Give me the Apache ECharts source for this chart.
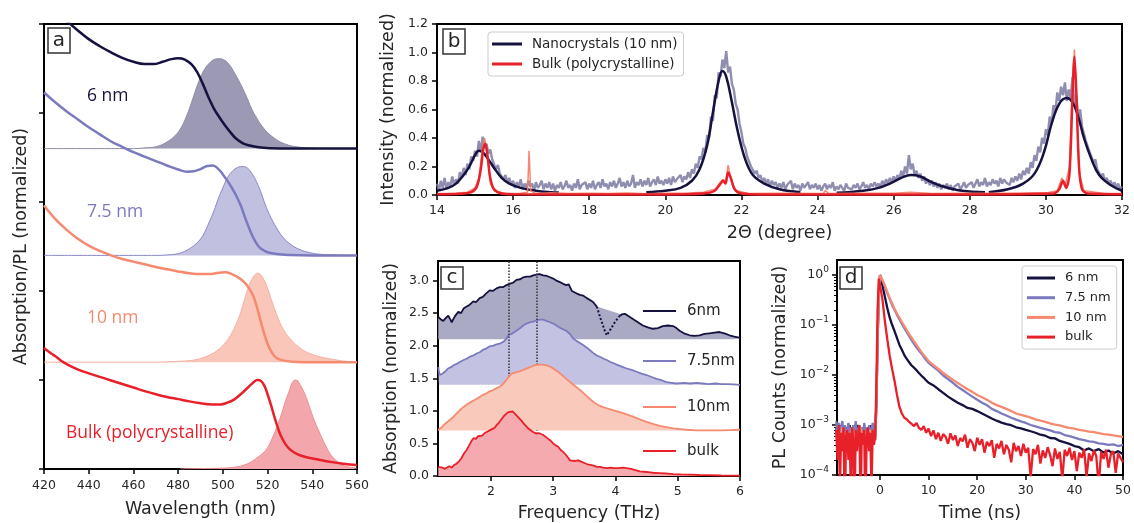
<!DOCTYPE html>
<html><head><meta charset="utf-8">
<script src="https://cdn.jsdelivr.net/npm/echarts@6/dist/echarts.min.js"></script>
<style>html,body{margin:0;padding:0;background:#fff}#chart{width:1134px;height:523px}</style>
</head><body><div id="chart"></div>
<script>
const FONT = "'DejaVu Sans', sans-serif";
const LABFONT = "'Open Sans', 'DejaVu Sans', sans-serif";
const C6 = '#15123f', C75 = '#7c7abf', C10 = '#f58a70', CB = '#e8202a';

// ---------- Panel a : absorption / PL (wavelength nm, offset units) ----------
const aBase = [3.6, 2.4, 1.2, 0];
const aAbs6 = [[420,5.32],[425,5.17],[430,5.04],[435,4.93],[440,4.83],[445,4.75],[450,4.68],[455,4.62],[460,4.575],[465,4.55],[469,4.55],[473,4.575],[477,4.605],[480,4.615],[483,4.6],[486,4.545],[488.5,4.46],[491,4.33],[493.5,4.18],[496,4.05],[498.5,3.95],[501,3.86],[503.5,3.78],[506,3.71],[509,3.66],[512,3.635],[516,3.615],[521,3.605],[530,3.6],[560,3.6]];
const aPL6 = [[420,3.6],[460,3.6],[466,3.61],[470,3.62],[474,3.66],[478,3.73],[481,3.82],[484,3.98],[486,4.12],[488,4.27],[490,4.4],[492,4.5],[494,4.56],[496,4.6],[498.5,4.61],[501,4.59],[503,4.54],[505,4.46],[507,4.37],[509,4.27],[511,4.16],[513,4.04],[515,3.95],[517,3.87],[520,3.78],[524,3.7],[528,3.65],[533,3.62],[540,3.605],[548,3.6],[560,3.6]];
const aAbs75 = [[420,4.23],[425,4.12],[430,4.02],[435,3.93],[440,3.84],[445,3.76],[450,3.68],[455,3.62],[460,3.56],[465,3.51],[470,3.46],[475,3.41],[480,3.365],[484,3.34],[487,3.345],[490,3.37],[493,3.405],[495.5,3.41],[498,3.37],[500,3.31],[502,3.24],[504,3.16],[506,3.07],[508,2.96],[510,2.82],[512,2.69],[514,2.58],[516,2.5],[518,2.46],[520,2.435],[524,2.415],[530,2.405],[540,2.4],[560,2.4]];
const aPL75 = [[420,2.4],[470,2.4],[475,2.405],[480,2.42],[484,2.46],[488,2.53],[491,2.62],[494,2.78],[496,2.9],[498,3.04],[500,3.16],[502,3.27],[504,3.34],[506,3.38],[508.6,3.4],[511,3.38],[513,3.32],[515,3.23],[517,3.11],[519,2.97],[521,2.85],[524,2.71],[527,2.6],[530,2.53],[534,2.47],[539,2.43],[545,2.41],[560,2.4]];
const aAbs10 = [[420,2.96],[425,2.81],[430,2.69],[435,2.59],[440,2.51],[445,2.45],[450,2.4],[455,2.36],[460,2.33],[465,2.3],[470,2.27],[475,2.245],[480,2.22],[485,2.2],[490,2.19],[494,2.19],[498,2.205],[501,2.21],[504,2.19],[507,2.15],[509.5,2.1],[511.5,2.04],[513.5,1.95],[515,1.84],[516.5,1.7],[518,1.56],[519.5,1.44],[521,1.35],[523,1.27],[525,1.235],[528,1.215],[533,1.203],[540,1.2],[560,1.2]];
const aPL10 = [[420,1.2],[470,1.2],[480,1.21],[486,1.22],[490,1.24],[494,1.28],[497.4,1.33],[500.5,1.4],[503.4,1.5],[506,1.63],[508,1.76],[510,1.93],[512,2.08],[514,2.17],[515.6,2.2],[517,2.18],[518.5,2.12],[520,2.03],[522,1.88],[524.3,1.72],[527,1.57],[530.2,1.46],[534,1.37],[537.7,1.31],[543.6,1.26],[549.6,1.23],[555,1.21],[560,1.2]];
const aAbsB = [[420,1.36],[422,1.32],[424,1.285],[426,1.25],[428,1.21],[430,1.18],[435,1.12],[440,1.075],[445,1.035],[450,0.995],[455,0.955],[460,0.915],[465,0.875],[470,0.84],[475,0.81],[480,0.785],[485,0.76],[490,0.74],[495,0.725],[499,0.725],[502,0.745],[505,0.78],[508,0.84],[511,0.91],[513.5,0.97],[515.5,1.0],[517,0.99],[518.5,0.94],[520,0.84],[521.5,0.72],[523,0.59],[524.5,0.47],[526,0.37],[528,0.28],[530,0.22],[533,0.17],[537,0.135],[542,0.11],[548,0.08],[554,0.06],[560,0.045]];
const aPLB = [[481,0.0],[490,0.005],[500,0.01],[505,0.02],[509,0.04],[512,0.07],[515,0.12],[518,0.18],[520,0.24],[522,0.34],[524,0.46],[526,0.6],[528,0.76],[530,0.9],[531,0.97],[532.4,1.0],[533.5,0.99],[534.7,0.94],[536,0.88],[537.5,0.79],[539,0.68],[541,0.54],[543.6,0.39],[546,0.26],[548,0.17],[550,0.11],[552.6,0.06],[555,0.03],[558.5,0.015],[560,0.01]];
const aLabels = ['6 nm', '7.5 nm', '10 nm', 'Bulk (polycrystalline)'];

// ---------- Panel b : XRD ----------
const xrdStart = 14, xrdStep = 0.05;
const xrdNanoRaw = [
0.08,0.03,0.10,0.05,0.12,0.04,0.09,0.06,0.13,0.07,
0.11,0.08,0.16,0.12,0.19,0.14,0.22,0.18,0.27,0.24,
0.31,0.27,0.38,0.30,0.41,0.33,0.36,0.29,0.32,0.25,
0.24,0.18,0.21,0.15,0.16,0.11,0.14,0.09,0.12,0.07,
0.10,0.05,0.09,0.06,0.11,0.04,0.08,0.05,0.10,0.06,
0.08,0.03,0.09,0.05,0.07,0.10,0.04,0.08,0.05,0.09,
0.04,0.08,0.03,0.07,0.05,0.09,0.04,0.06,0.10,0.05,
0.07,0.03,0.08,0.05,0.11,0.04,0.07,0.06,0.09,0.04,
0.08,0.05,0.10,0.04,0.07,0.09,0.05,0.11,0.06,0.08,
0.04,0.09,0.06,0.10,0.05,0.08,0.12,0.06,0.09,0.05,
0.10,0.06,0.08,0.14,0.05,0.09,0.07,0.11,0.06,0.10,
0.07,0.12,0.06,0.09,0.11,0.07,0.13,0.08,0.10,0.07,
0.11,0.08,0.12,0.07,0.13,0.09,0.11,0.10,0.14,0.09,
0.13,0.11,0.16,0.12,0.18,0.15,0.22,0.19,0.27,0.25,
0.33,0.30,0.42,0.40,0.55,0.52,0.70,0.68,0.86,0.83,
0.95,0.89,1.01,0.86,0.90,0.78,0.74,0.64,0.60,0.50,
0.44,0.36,0.33,0.27,0.26,0.20,0.21,0.15,0.17,0.12,
0.14,0.09,0.12,0.08,0.11,0.06,0.10,0.07,0.09,0.05,
0.08,0.05,0.09,0.04,0.07,0.06,0.10,0.04,0.08,0.05,
0.07,0.03,0.08,0.05,0.06,0.09,0.04,0.07,0.05,0.08,
0.04,0.07,0.03,0.06,0.08,0.04,0.07,0.05,0.09,0.03,
0.06,0.04,0.07,0.05,0.03,0.08,0.05,0.06,0.04,0.07,
0.05,0.08,0.04,0.06,0.09,0.05,0.07,0.04,0.08,0.06,
0.09,0.06,0.08,0.05,0.10,0.07,0.11,0.08,0.12,0.09,
0.13,0.10,0.14,0.11,0.17,0.13,0.20,0.15,0.28,0.18,
0.22,0.14,0.17,0.12,0.15,0.10,0.13,0.08,0.11,0.07,
0.10,0.06,0.09,0.05,0.08,0.04,0.07,0.05,0.08,0.04,
0.07,0.03,0.06,0.05,0.08,0.04,0.06,0.09,0.05,0.07,
0.06,0.09,0.05,0.08,0.11,0.06,0.09,0.07,0.12,0.06,
0.09,0.07,0.11,0.08,0.10,0.06,0.12,0.08,0.11,0.09,
0.10,0.07,0.12,0.09,0.13,0.10,0.15,0.11,0.17,0.14,
0.19,0.15,0.23,0.19,0.28,0.24,0.34,0.30,0.40,0.36,
0.46,0.42,0.55,0.50,0.63,0.58,0.72,0.66,0.76,0.70,
0.79,0.66,0.74,0.68,0.83,0.62,0.70,0.55,0.60,0.48,
0.47,0.38,0.39,0.30,0.31,0.23,0.25,0.18,0.19,0.13,
0.15,0.10,0.12,0.08,0.10,0.06,0.09,0.05,0.08,0.04,
0.06];
const xrdNanoFit1 = [[14.0,0.03],[14.3,0.05],[14.5,0.08],[14.7,0.14],[14.85,0.2],[15.0,0.28],[15.1,0.31],[15.2,0.3],[15.35,0.25],[15.5,0.19],[15.7,0.12],[15.9,0.08],[16.2,0.05],[16.6,0.03],[17.0,0.02],[17.2,0.018]];
const xrdNanoFit2 = [[19.5,0.02],[20.0,0.03],[20.4,0.05],[20.7,0.1],[20.9,0.18],[21.1,0.35],[21.25,0.58],[21.4,0.8],[21.5,0.87],[21.6,0.83],[21.75,0.65],[21.9,0.45],[22.1,0.25],[22.3,0.14],[22.6,0.08],[23.0,0.04],[23.55,0.02]];
const xrdNanoFit3 = [[24.5,0.015],[25.2,0.03],[25.6,0.05],[25.9,0.08],[26.2,0.12],[26.45,0.14],[26.7,0.13],[27.0,0.09],[27.3,0.06],[27.8,0.03],[28.4,0.02]];
const xrdNanoFit4 = [[28.5,0.02],[29.0,0.04],[29.4,0.08],[29.7,0.15],[29.95,0.3],[30.15,0.5],[30.35,0.64],[30.55,0.68],[30.7,0.65],[30.85,0.55],[31.0,0.4],[31.2,0.25],[31.4,0.14],[31.7,0.07],[32.0,0.03]];
const xrdBulkRaw = [[14.0,0.01],[14.5,0.012],[14.8,0.02],[15.0,0.05],[15.1,0.12],[15.18,0.3],[15.25,0.4],[15.32,0.28],[15.4,0.08],[15.5,0.03],[15.8,0.01],[16.2,0.012],[16.38,0.02],[16.42,0.31],[16.46,0.03],[16.6,0.01],[17,0.015],[17.5,0.01],[18,0.012],[18.5,0.01],[19,0.014],[19.5,0.008],[20,0.012],[20.5,0.012],[21.0,0.02],[21.3,0.04],[21.45,0.09],[21.52,0.11],[21.58,0.08],[21.65,0.21],[21.72,0.12],[21.85,0.03],[22.2,0.01],[23,0.012],[24.15,0.01],[24.2,0.03],[24.3,0.01],[25,0.012],[26,0.012],[26.45,0.02],[27,0.01],[28,0.012],[29,0.012],[30,0.015],[30.3,0.03],[30.42,0.12],[30.5,0.06],[30.62,0.2],[30.7,0.8],[30.75,1.02],[30.8,0.7],[30.88,0.15],[31.0,0.03],[31.5,0.012],[32,0.01]];
const xrdBulkFit = [[14,0.005],[14.6,0.008],[14.9,0.02],[15.05,0.06],[15.15,0.18],[15.22,0.33],[15.27,0.36],[15.33,0.27],[15.4,0.12],[15.5,0.04],[15.7,0.01],[16,0.005],[18,0.004],[20,0.004],[21.0,0.01],[21.3,0.03],[21.45,0.08],[21.52,0.1],[21.58,0.08],[21.65,0.16],[21.72,0.12],[21.82,0.04],[22.0,0.01],[22.5,0.004],[25,0.004],[28,0.004],[30.2,0.01],[30.35,0.04],[30.45,0.1],[30.53,0.05],[30.62,0.15],[30.7,0.7],[30.75,0.97],[30.8,0.72],[30.87,0.2],[30.95,0.04],[31.1,0.01],[32,0.005]];

// ---------- Panel c : THz absorption ----------
const cBase = [2.1, 1.4, 0.7, 0];
const cMarks = [2.28, 2.73];
const c6A = [[1.155,2.44],[1.2,2.4],[1.235,2.38],[1.28,2.43],[1.315,2.46],[1.35,2.4],[1.37,2.36],[1.42,2.45],[1.476,2.52],[1.52,2.5],[1.56,2.57],[1.61,2.6],[1.66,2.63],[1.717,2.68],[1.76,2.67],[1.82,2.73],[1.87,2.75],[1.92,2.8],[1.98,2.85],[2.03,2.84],[2.09,2.88],[2.14,2.9],[2.2,2.9],[2.25,2.93],[2.3,2.95],[2.36,2.97],[2.41,3.01],[2.47,3.02],[2.52,3.05],[2.57,3.06],[2.63,3.06],[2.68,3.08],[2.73,3.09],[2.78,3.1],[2.84,3.08],[2.9,3.07],[2.95,3.05],[3.0,3.03],[3.05,3.0],[3.1,2.98],[3.16,2.95],[3.21,2.93],[3.25,2.94],[3.27,2.9],[3.3,2.84],[3.32,2.82],[3.38,2.8],[3.43,2.78],[3.48,2.77],[3.54,2.73],[3.59,2.7],[3.64,2.67],[3.7,2.6]];
const c6Dip = [[3.7,2.6],[3.76,2.42],[3.82,2.25],[3.86,2.16],[3.92,2.25],[3.99,2.36],[4.06,2.45]];
const c6B = [[4.06,2.45],[4.1,2.48],[4.15,2.49],[4.2,2.46],[4.28,2.41],[4.36,2.36],[4.44,2.31],[4.52,2.28],[4.6,2.26],[4.68,2.27],[4.76,2.3],[4.84,2.31],[4.93,2.3],[4.98,2.27],[5.03,2.23],[5.1,2.19],[5.19,2.16],[5.27,2.15],[5.35,2.16],[5.43,2.18],[5.51,2.19],[5.59,2.2],[5.67,2.21],[5.75,2.19],[5.83,2.16],[5.91,2.14],[6.0,2.12]];
const c75 = [[1.155,1.67],[1.165,1.6],[1.18,1.55],[1.22,1.57],[1.26,1.6],[1.31,1.65],[1.36,1.67],[1.4,1.7],[1.45,1.72],[1.5,1.75],[1.56,1.78],[1.61,1.8],[1.66,1.83],[1.72,1.85],[1.77,1.88],[1.82,1.9],[1.88,1.94],[1.93,1.96],[1.98,1.99],[2.04,2.0],[2.09,2.02],[2.14,2.03],[2.2,2.06],[2.25,2.11],[2.28,2.16],[2.33,2.18],[2.38,2.21],[2.41,2.23],[2.47,2.27],[2.52,2.31],[2.57,2.34],[2.63,2.36],[2.68,2.37],[2.73,2.39],[2.78,2.4],[2.84,2.4],[2.89,2.38],[2.95,2.36],[3.0,2.34],[3.05,2.31],[3.1,2.28],[3.16,2.25],[3.21,2.23],[3.27,2.18],[3.32,2.11],[3.38,2.07],[3.43,2.04],[3.48,2.01],[3.54,1.97],[3.59,1.93],[3.64,1.89],[3.7,1.85],[3.75,1.83],[3.81,1.8],[3.86,1.78],[3.92,1.75],[3.97,1.73],[4.02,1.71],[4.1,1.68],[4.18,1.65],[4.26,1.63],[4.34,1.6],[4.42,1.57],[4.5,1.55],[4.58,1.52],[4.66,1.49],[4.74,1.47],[4.82,1.44],[4.9,1.43],[4.98,1.42],[5.1,1.43],[5.2,1.42],[5.3,1.43],[5.4,1.42],[5.5,1.41],[5.6,1.42],[5.7,1.41],[5.8,1.41],[5.9,1.405],[6.0,1.4]];
const c10 = [[1.155,0.71],[1.2,0.74],[1.25,0.79],[1.3,0.83],[1.34,0.86],[1.4,0.91],[1.45,0.96],[1.5,1.01],[1.56,1.06],[1.62,1.1],[1.67,1.13],[1.72,1.16],[1.78,1.19],[1.83,1.22],[1.88,1.25],[1.93,1.27],[1.98,1.3],[2.04,1.32],[2.09,1.35],[2.14,1.37],[2.18,1.4],[2.22,1.44],[2.27,1.5],[2.33,1.57],[2.4,1.59],[2.47,1.61],[2.55,1.64],[2.63,1.67],[2.7,1.7],[2.76,1.71],[2.83,1.71],[2.89,1.7],[2.95,1.68],[3.0,1.65],[3.05,1.62],[3.13,1.56],[3.21,1.49],[3.3,1.42],[3.38,1.36],[3.43,1.32],[3.5,1.26],[3.57,1.2],[3.64,1.14],[3.72,1.09],[3.79,1.06],[3.86,1.04],[3.96,1.01],[4.07,0.98],[4.17,0.95],[4.28,0.91],[4.39,0.87],[4.5,0.83],[4.6,0.8],[4.71,0.77],[4.82,0.75],[4.93,0.73],[5.04,0.72],[5.14,0.71],[5.3,0.7],[5.5,0.7],[5.7,0.7],[5.85,0.705],[6.0,0.71]];
const cBulk = [[1.155,0.14],[1.18,0.12],[1.22,0.13],[1.26,0.11],[1.29,0.12],[1.33,0.15],[1.37,0.13],[1.41,0.17],[1.45,0.19],[1.49,0.23],[1.53,0.28],[1.57,0.35],[1.61,0.4],[1.65,0.47],[1.69,0.54],[1.72,0.58],[1.76,0.57],[1.79,0.61],[1.82,0.63],[1.86,0.62],[1.9,0.66],[1.94,0.68],[1.98,0.7],[2.02,0.72],[2.06,0.74],[2.09,0.78],[2.13,0.82],[2.17,0.87],[2.2,0.91],[2.24,0.95],[2.28,0.98],[2.31,1.0],[2.35,0.99],[2.38,0.97],[2.41,0.93],[2.45,0.89],[2.49,0.85],[2.52,0.81],[2.56,0.77],[2.6,0.73],[2.63,0.7],[2.67,0.68],[2.7,0.66],[2.73,0.65],[2.77,0.66],[2.8,0.64],[2.84,0.63],[2.88,0.6],[2.92,0.57],[2.96,0.54],[3.0,0.5],[3.04,0.47],[3.08,0.45],[3.12,0.4],[3.16,0.37],[3.2,0.33],[3.24,0.28],[3.27,0.24],[3.3,0.25],[3.35,0.23],[3.4,0.24],[3.45,0.22],[3.5,0.2],[3.55,0.18],[3.6,0.17],[3.65,0.16],[3.7,0.14],[3.75,0.14],[3.8,0.13],[3.86,0.12],[3.92,0.13],[3.98,0.12],[4.05,0.12],[4.12,0.13],[4.18,0.12],[4.25,0.11],[4.32,0.09],[4.39,0.07],[4.46,0.065],[4.53,0.06],[4.6,0.05],[4.7,0.045],[4.8,0.04],[4.93,0.03],[5.05,0.025],[5.2,0.02],[5.35,0.015],[5.5,0.012],[5.7,0.008],[5.85,0.006],[6.0,0.005]];
const cNames = ['6nm', '7.5nm', '10nm', 'bulk'];

// ---------- Panel d : PL decay ----------
const dTimePre = [-9,-8.75,-8.5,-8.25,-8,-7.75,-7.5,-7.25,-7,-6.75,-6.5,-6.25,-6,-5.75,-5.5,-5.25,-5,-4.75,-4.5,-4.25,-4,-3.75,-3.5,-3.25,-3,-2.75,-2.5,-2.25,-2,-1.75,-1.5,-1.25,-1];
const dTimeRise = [-0.75,-0.5,-0.25];
const dTimeNC = [0,0.5,1,1.5,2,2.5,3,3.5,4,4.5,5,5.5,6,6.5,7,7.5,8,8.5,9,9.5,10,
11,12,13,14,15,16,17,18,19,20,21,22,23,24,25,26,27,28,29,30,31,32,33,34,35,36,37,38,39,40,41,42,43,44,45,46,47,48,49,50];
const dTimeBulk = [0,0.5,1,1.5,2,2.5,3,3.5,4,4.5,5,5.5,6,6.5,7,7.5,8,8.5,9,9.5,10,
10.5,11,11.5,12,12.5,13,13.5,14,14.5,15,15.5,16,16.5,17,17.5,18,18.5,19,19.5,20,
20.5,21,21.5,22,22.5,23,23.5,24,24.5,25,25.5,26,26.5,27,27.5,28,28.5,29,29.5,30,
30.5,31,31.5,32,32.5,33,33.5,34,34.5,35,35.5,36,36.5,37,37.5,38,38.5,39,39.5,40,
40.5,41,41.5,42,42.5,43,43.5,44,44.5,45,45.5,46,46.5,47,47.5,48,48.5,49,49.5,50];
const d6Pre = [9e-4,5e-4,8e-4,4e-4,1.0e-3,6e-4,8e-4,5e-4,9e-4,4e-4,7e-4,1.0e-3,5e-4,8e-4,6e-4,9e-4,4e-4,7e-4,1.0e-3,5e-4,8e-4,6e-4,9e-4,5e-4,7e-4,4e-4,8e-4,6e-4,1.0e-3,5e-4,7e-4,6e-4,5e-4];
const d75Pre = [1.2e-3,6e-4,1.1e-3,5e-4,9e-4,1.2e-3,7e-4,1.0e-3,5e-4,8e-4,1.1e-3,6e-4,9e-4,4e-4,1.0e-3,7e-4,1.2e-3,5e-4,8e-4,1.0e-3,6e-4,9e-4,4e-4,1.1e-3,7e-4,9e-4,5e-4,1.0e-3,6e-4,8e-4,1.1e-3,5e-4,7e-4];
const d10Pre = [7e-4,4e-4,8e-4,5e-4,6e-4,9e-4,4e-4,7e-4,5e-4,8e-4,3e-4,7e-4,6e-4,9e-4,4e-4,6e-4,8e-4,5e-4,7e-4,4e-4,9e-4,6e-4,5e-4,8e-4,4e-4,7e-4,6e-4,5e-4,8e-4,4e-4,6e-4,7e-4,5e-4];
const dBulkPre = [8e-4,2e-4,1.0e-3,5e-5,7e-4,3e-4,9e-4,1e-5,6e-4,8e-4,2e-4,7e-4,4e-5,9e-4,5e-4,1e-5,8e-4,3e-4,6e-4,1.0e-3,2e-5,7e-4,4e-4,8e-4,1e-5,6e-4,9e-4,3e-4,7e-4,5e-5,8e-4,4e-4,6e-4];
const dNCRise = [2.5e-3, 0.05, 0.4];
const dBulkRise = [6e-3, 0.2, 0.85];
const d6 = [1.0,0.62,0.37,0.22,0.14,0.1,0.075,0.055,0.04,0.032,0.025,0.021,0.018,0.0155,0.014,0.0125,0.011,0.0098,0.0088,0.0078,0.007,
0.0062,0.0052,0.0044,0.0037,0.0032,0.0028,0.0025,0.0022,0.0021,0.0019,0.0017,0.00152,0.00135,0.00122,0.00112,0.00104,0.00099,0.0009,0.00086,0.0008,0.00075,0.0007,0.00064,0.00061,0.00055,0.00054,0.00048,0.00045,0.00042,0.00038,0.00036,0.00031,0.00034,0.0003,0.00033,0.00028,0.00031,0.00027,0.0003,0.00026];
const d75 = [1.0,0.78,0.58,0.43,0.33,0.25,0.2,0.16,0.13,0.105,0.087,0.072,0.06,0.05,0.042,0.036,0.031,0.027,0.023,0.02,0.0175,
0.0145,0.0122,0.0098,0.0083,0.007,0.0058,0.005,0.0043,0.0037,0.0032,0.0028,0.0025,0.0021,0.0019,0.0017,0.00155,0.0014,0.00128,0.00118,0.0011,0.001,0.00094,0.00088,0.00083,0.00078,0.00072,0.0007,0.00063,0.0006,0.00056,0.00052,0.0005,0.00047,0.00046,0.00043,0.00042,0.0004,0.00041,0.00038,0.0004];
const d10 = [1.0,0.8,0.62,0.46,0.35,0.27,0.21,0.17,0.14,0.115,0.095,0.079,0.066,0.056,0.047,0.04,0.034,0.029,0.025,0.022,0.019,
0.0158,0.0132,0.011,0.0094,0.0081,0.0069,0.006,0.0052,0.0046,0.004,0.0036,0.0032,0.0028,0.0025,0.0023,0.0021,0.0019,0.0017,0.0016,0.0015,0.0014,0.0013,0.00122,0.00115,0.00108,0.00102,0.00098,0.00092,0.00088,0.00085,0.0008,0.00077,0.00074,0.00072,0.00069,0.00066,0.00064,0.00062,0.0006,0.00058];
const dBulk = [0.9,0.33,0.12,0.052,0.024,0.013,0.0075,0.004,0.0023,0.0017,0.0014,0.0013,0.00115,0.00105,0.00095,0.0011,0.00088,0.0008,0.00095,0.0007,0.00085,
0.0006,0.00078,0.00052,0.0007,0.00048,0.00066,0.00058,0.00042,0.00068,0.0005,
0.00062,0.00038,0.00055,0.00047,0.00064,0.00035,0.00052,0.00044,0.0003,0.00056,
0.0004,0.00052,0.00028,0.00046,0.00038,0.0005,0.00022,0.00042,0.00034,0.00048,
0.00026,0.0004,0.00032,0.00018,0.00044,0.0003,0.00038,0.00024,0.00042,0.00028,
0.00035,0.00009,0.00033,0.00026,0.0004,0.00017,0.00031,0.00022,0.00036,0.00025,
0.00015,0.00034,0.00021,0.00029,0.00008,0.00032,0.00024,0.00035,0.0002,0.0003,
0.00012,0.00028,0.00022,0.00033,0.00009,0.00027,0.00019,0.00031,0.00024,0.00006,
0.00029,0.00021,0.00032,0.00014,0.00026,0.0003,0.00011,0.00027,0.00022,0.00018];
const dNames = ['6 nm', '7.5 nm', '10 nm', 'bulk'];
const dMajor = [1e-4, 1e-3, 1e-2, 1e-1, 1];
const dMinor = [2e-4,3e-4,4e-4,5e-4,6e-4,7e-4,8e-4,9e-4,2e-3,3e-3,4e-3,5e-3,6e-3,7e-3,8e-3,9e-3,2e-2,3e-2,4e-2,5e-2,6e-2,7e-2,8e-2,9e-2,0.2,0.3,0.4,0.5,0.6,0.7,0.8,0.9];
const dXTicks = [0, 10, 20, 30, 40, 50];
const cXTicks = [2, 3, 4, 5, 6];

// ---------- helpers ----------
const zip = (t, v) => t.map((x, i) => [x, v[i]]);
const xrdRawPairs = xrdNanoRaw.map((v, i) => [+(xrdStart + i * xrdStep).toFixed(2), v]);
function logLabel(v) {
  const e = Math.log10(v), r = Math.round(e);
  if (Math.abs(e - r) > 0.01) return '';
  return '{b|10}{s|' + (r < 0 ? '\u2212' + (-r) : String(r)) + '}';
}
function ax(o) {
  const base = {
    type: 'value', nameLocation: 'middle',
    axisLine: {show: true, onZero: false, lineStyle: {color: '#000', width: 2}},
    axisTick: {show: true, inside: false, length: 5, lineStyle: {color: '#000', width: 1.5}},
    axisLabel: {color: '#262626', fontFamily: FONT, fontSize: 12.5, margin: 9},
    splitLine: {show: false},
    nameTextStyle: {color: '#262626', fontFamily: FONT, fontSize: 17.5}
  };
  for (const k in o) {
    if (base[k] && typeof base[k] === 'object' && !Array.isArray(base[k]) && typeof o[k] === 'object') base[k] = Object.assign({}, base[k], o[k]);
    else base[k] = o[k];
  }
  return base;
}
function ln(o) {
  return Object.assign({type: 'line', showSymbol: false, symbol: 'none', animation: false, silent: true}, o);
}
const gridStyle = {show: true, borderColor: '#000', borderWidth: 2, backgroundColor: 'transparent'};

const series = [];
// panel a fills
[[aPL6, aBase[0], '#9b99b4', '#8e8ca9'], [aPL75, aBase[1], '#c1c0e1', '#8a88c8'], [aPL10, aBase[2], '#f9c6b9', '#f6b09f'], [aPLB, aBase[3], '#f3a7ac', '#ee8e90']].forEach((s, i) => {
  series.push(ln({name: 'aPL' + i, xAxisIndex: 0, yAxisIndex: 0, data: s[0], smooth: 0.4,
    lineStyle: {color: s[3], width: 1}, areaStyle: {origin: s[1], color: s[2], opacity: 1}, z: 2}));
});
[[aAbs6, C6], [aAbs75, C75], [aAbs10, C10], [aAbsB, CB]].forEach((s, i) => {
  series.push(ln({name: 'aAbs' + i, xAxisIndex: 0, yAxisIndex: 0, data: s[0], smooth: 0.4,
    lineStyle: {color: s[1], width: 2.5}, z: 3}));
});
// panel b
series.push(ln({name: 'nanoRaw', xAxisIndex: 1, yAxisIndex: 1, data: xrdRawPairs, lineStyle: {color: '#7d7aa2', width: 2.4, opacity: 0.85}, z: 2}));
[xrdNanoFit1, xrdNanoFit2, xrdNanoFit3, xrdNanoFit4].forEach((d, i) => {
  series.push(ln({name: i === 0 ? 'Nanocrystals (10 nm)' : 'nanoFit' + i, xAxisIndex: 1, yAxisIndex: 1, data: d, smooth: 0.4, lineStyle: {color: C6, width: 2.5}, z: 3}));
});
series.push(ln({name: 'bulkRaw', xAxisIndex: 1, yAxisIndex: 1, data: xrdBulkRaw, lineStyle: {color: '#f47a62', width: 1.5, opacity: 0.9}, z: 4}));
series.push(ln({name: 'Bulk (polycrystalline)', xAxisIndex: 1, yAxisIndex: 1, data: xrdBulkFit, smooth: 0.3, lineStyle: {color: CB, width: 2.5}, z: 5}));
// panel c
series.push(ln({name: 'c6fill', xAxisIndex: 2, yAxisIndex: 2, data: c6A.concat(c6B.slice(1)), lineStyle: {width: 0, opacity: 0}, areaStyle: {origin: cBase[0], color: '#abaac4', opacity: 1}, z: 2}));
series.push(ln({name: '6nm', xAxisIndex: 2, yAxisIndex: 2, data: c6A, lineStyle: {color: C6, width: 1.8}, z: 3}));
series.push(ln({name: 'c6b', xAxisIndex: 2, yAxisIndex: 2, data: c6B, lineStyle: {color: C6, width: 1.8}, z: 3}));
series.push(ln({name: 'c6dip', xAxisIndex: 2, yAxisIndex: 2, data: c6Dip, lineStyle: {color: C6, width: 2, type: 'dotted'}, z: 3}));
[[c75, cBase[1], '#c3c2e3', C75, '7.5nm'], [c10, cBase[2], '#f9c9bc', C10, '10nm'], [cBulk, cBase[3], '#f4aaaf', CB, 'bulk']].forEach((s, i) => {
  const o = {name: s[4], xAxisIndex: 2, yAxisIndex: 2, data: s[0], lineStyle: {color: s[3], width: 1.8},
    areaStyle: {origin: s[1], color: s[2], opacity: 1}, z: 4 + i};
  if (i === 2) o.markLine = {silent: true, symbol: ['none', 'none'], animation: false, label: {show: false},
    lineStyle: {type: 'dotted', color: '#333', width: 1.5}, data: cMarks.map(v => ({xAxis: v}))};
  series.push(ln(o));
});
// panel d
[[d6Pre, dNCRise, dTimeNC, d6, C6], [d75Pre, dNCRise, dTimeNC, d75, C75], [d10Pre, dNCRise, dTimeNC, d10, C10], [dBulkPre, dBulkRise, dTimeBulk, dBulk, CB]].forEach((s, i) => {
  const data = zip(dTimePre, s[0]).concat(zip(dTimeRise, s[1]), zip(s[2], s[3]));
  series.push(ln({name: dNames[i], xAxisIndex: 3, yAxisIndex: 3, data: data, lineStyle: {color: s[4], width: 2.3}, z: 2 + i}));
});

const cColors = [C6, C75, C10, CB];
const cCenters = [311, 361, 407, 451];
const legends = [
  {left: 488, top: 32, orient: 'vertical', icon: 'rect', itemWidth: 30, itemHeight: 3, itemGap: 6,
   padding: [5, 6, 5, 4], borderColor: '#cccccc', borderWidth: 1, borderRadius: 3, backgroundColor: 'rgba(255,255,255,0.85)',
   textStyle: {fontFamily: FONT, fontSize: 13.5, color: '#262626', lineHeight: 14, padding: [0, 0, 0, 5]},
   selectedMode: false,
   data: [{name: 'Nanocrystals (10 nm)', itemStyle: {color: C6}}, {name: 'Bulk (polycrystalline)', itemStyle: {color: CB}}]},
  {left: 1022, top: 266, orient: 'vertical', icon: 'rect', itemWidth: 28, itemHeight: 3, itemGap: 5.7,
   padding: [5, 6, 5, 5], borderColor: '#cccccc', borderWidth: 1, borderRadius: 3, backgroundColor: 'rgba(255,255,255,0.85)',
   textStyle: {fontFamily: FONT, fontSize: 13, color: '#262626', lineHeight: 14, padding: [0, 0, 0, 5]},
   selectedMode: false,
   data: dNames.map((n, i) => ({name: n, itemStyle: {color: cColors[i]}}))}
];
cNames.forEach((n, i) => {
  legends.push({left: 643, top: cCenters[i] - 8, orient: 'vertical', icon: 'rect', itemWidth: 33, itemHeight: 2, padding: 0,
    textStyle: {fontFamily: FONT, fontSize: 15, color: '#262626', lineHeight: 16, padding: [0, 0, 0, 6]}, selectedMode: false,
    data: [{name: n, itemStyle: {color: cColors[i]}}]});
});

const boxes = [['a', 48, 28, 22, 25], ['b', 443, 29, 22, 25], ['c', 441, 267, 22, 22], ['d', 840, 267, 22, 22]];
const graphic = [];
boxes.forEach(b => {
  graphic.push({type: 'rect', shape: {x: b[1], y: b[2], width: b[3], height: b[4]}, style: {fill: '#fff', stroke: '#333', lineWidth: 1.5}, z: 100});
  graphic.push({type: 'text', x: b[1] + b[3] / 2, y: b[2] + b[4] / 2, style: {text: b[0], fontSize: 20, fontFamily: FONT, fill: '#262626', align: 'center', verticalAlign: 'middle'}, z: 101});
});
const aTextPos = [[87, 96, C6], [87, 212, C75], [87, 318, C10], [66, 433, CB]];
aLabels.forEach((t, i) => {
  graphic.push({type: 'text', x: aTextPos[i][0], y: aTextPos[i][1], style: {text: t, fontSize: 17.5, fontFamily: LABFONT, fill: aTextPos[i][2], align: 'left', verticalAlign: 'middle'}, z: 101});
});

const option = {
  animation: false,
  backgroundColor: '#fff',
  grid: [
    Object.assign({left: 44, top: 24, width: 313, height: 451}, gridStyle),
    Object.assign({left: 437, top: 24, width: 685, height: 171}, gridStyle),
    Object.assign({left: 438, top: 261, width: 302, height: 215}, gridStyle),
    Object.assign({left: 837, top: 260, width: 286, height: 215}, gridStyle)
  ],
  xAxis: [
    ax({gridIndex: 0, min: 420, max: 560, interval: 20, name: 'Wavelength (nm)', nameGap: 31, axisLabel: {margin: 10}}),
    ax({gridIndex: 1, min: 14, max: 32, interval: 2, name: '2Θ (degree)', nameGap: 29}),
    ax({gridIndex: 2, min: 1.15, max: 6, name: 'Frequency (THz)', nameGap: 28,
        axisTick: {customValues: cXTicks}, axisLabel: {customValues: cXTicks}}),
    ax({gridIndex: 3, min: -8.85, max: 50, name: 'Time (ns)', nameGap: 29,
        axisTick: {customValues: dXTicks}, axisLabel: {customValues: dXTicks}})
  ],
  yAxis: [
    ax({gridIndex: 0, min: 0, max: 5, interval: 1, name: 'Absorption/PL (normalized)', nameGap: 14, axisLabel: {show: false}}),
    ax({gridIndex: 1, min: 0, max: 1.2, interval: 0.2, name: 'Intensity (normalized)', nameGap: 38,
        axisLabel: {formatter: v => v.toFixed(1)}}),
    ax({gridIndex: 2, min: 0, max: 3.3, interval: 0.5, name: 'Absorption (normalized)', nameGap: 38,
        axisLabel: {formatter: v => v.toFixed(1), showMaxLabel: false}}),
    ax({gridIndex: 3, type: 'log', logBase: 10, min: 1e-4, max: 2, name: 'PL Counts (normalized)', nameGap: 48, position: 'left',
        axisTick: {customValues: dMajor},
        axisLabel: {customValues: dMajor, formatter: logLabel, margin: 8,
          rich: {b: {fontFamily: FONT, fontSize: 12.5, color: '#262626', lineHeight: 20},
                 s: {fontFamily: FONT, fontSize: 9, color: '#262626', lineHeight: 10, verticalAlign: 'top'}}}}),
    ax({gridIndex: 3, type: 'log', logBase: 10, min: 1e-4, max: 2, position: 'left', axisLine: {show: false},
        axisTick: {customValues: dMinor, length: 3, lineStyle: {width: 1}}, axisLabel: {show: false}})
  ],
  legend: legends,
  graphic: graphic,
  series: series
};
const chart = echarts.init(document.getElementById('chart'), null, {renderer: 'canvas'});
chart.setOption(option);
</script></body></html>
